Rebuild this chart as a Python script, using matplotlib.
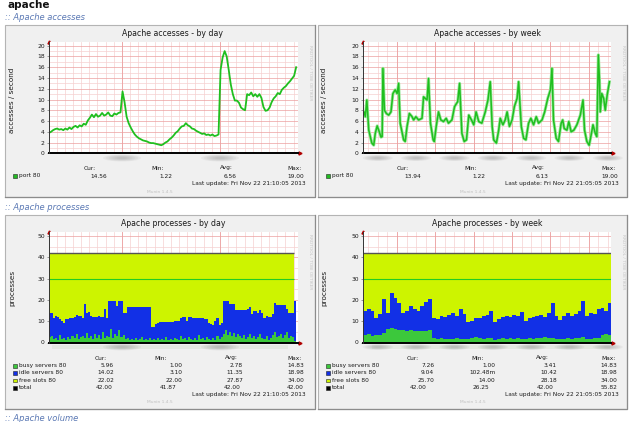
import numpy as np
import matplotlib
matplotlib.use('Agg')
import matplotlib.pyplot as plt
from matplotlib.patches import Rectangle, Ellipse

# ---------------- data ----------------
# Apache accesses by day (accesses/second), sampled every 0.25 h
acc_day = [3.8, 4.0, 4.3, 4.5, 4.6, 4.4, 4.5, 4.3,
           4.6, 4.4, 4.8, 4.5, 4.9, 5.1, 4.8, 5.2,
           5.0, 5.5, 5.3, 6.1, 6.6, 7.2, 6.7, 7.3,
           6.8, 7.0, 7.5, 7.0, 7.2, 7.6, 7.0, 6.9,
           7.4, 7.2, 7.5, 7.6, 11.5, 9.5, 6.8, 5.6,
           4.8, 4.1, 3.5, 3.1, 2.8, 2.6, 2.4, 2.3,
           2.2, 2.0, 1.9, 1.9, 1.8, 1.7, 1.6, 1.5,
           1.7, 2.0, 2.2, 2.6, 2.9, 3.3, 3.8, 4.1,
           4.6, 5.0, 5.1, 5.6, 5.2, 5.0, 4.6, 4.5,
           4.2, 4.0, 3.8, 3.6, 3.7, 3.4, 3.5, 3.3,
           3.5, 3.2, 3.3, 3.5, 15.5, 17.8, 19.0, 18.0,
           15.5, 12.8, 11.0, 9.8, 9.8, 9.4, 8.5, 8.2,
           8.0, 11.0, 10.8, 11.3, 10.6, 11.0, 10.5, 11.0,
           10.3, 8.6, 7.9, 8.0, 8.5, 9.5, 10.2, 10.6,
           11.2, 11.0, 11.8, 12.2, 12.5, 13.0, 13.4, 13.9,
           14.4, 16.0]
day_step_h = 0.25

# Apache accesses by week: time in days, value
acc_week_t = [0.00, 0.03, 0.06, 0.10, 0.15, 0.23, 0.28, 0.32, 0.37, 0.41,
              0.47, 0.50, 0.52, 0.56, 0.61, 0.67, 0.73, 0.78, 0.84, 0.89,
              0.93, 0.97, 1.06, 1.10, 1.15, 1.21, 1.28, 1.32, 1.38, 1.45,
              1.54, 1.58, 1.67, 1.71, 1.76, 1.83, 1.86, 1.91, 1.97, 2.03,
              2.10, 2.17, 2.23, 2.32, 2.39, 2.47, 2.52, 2.58, 2.64, 2.70,
              2.76, 2.83, 2.89, 2.95, 3.02, 3.10, 3.19, 3.26, 3.32, 3.37,
              3.41, 3.48, 3.54, 3.58, 3.65, 3.71, 3.76, 3.82, 3.89, 3.95,
              4.02, 4.06, 4.13, 4.19, 4.25, 4.32, 4.38, 4.45, 4.52, 4.58,
              4.67, 4.74, 4.82, 4.89, 4.93, 4.97, 5.04, 5.10, 5.17, 5.21,
              5.25, 5.32, 5.37, 5.43, 5.50, 5.58, 5.67, 5.74, 5.78, 5.84,
              5.90, 5.96, 6.00, 6.06, 6.10, 6.14, 6.17, 6.19, 6.23, 6.28,
              6.32, 6.37, 6.43]
acc_week_v = [7.1, 7.7, 6.8, 9.9, 4.3, 1.9, 1.5, 3.7, 5.1, 4.3,
              3.0, 3.1, 15.8, 8.0, 7.4, 7.1, 7.7, 11.1, 11.8, 11.1,
              13.0, 5.6, 2.5, 2.2, 5.0, 7.4, 6.8, 6.2, 6.8, 6.2,
              6.5, 10.5, 9.9, 13.9, 5.6, 2.5, 2.2, 5.0, 7.7, 6.2,
              5.9, 6.5, 5.6, 6.2, 8.7, 9.6, 13.0, 3.7, 2.2, 2.5,
              7.1, 6.2, 5.3, 7.7, 5.9, 5.6, 7.7, 9.9, 13.3, 5.0,
              2.5, 1.9, 4.3, 6.5, 5.3, 6.2, 7.7, 5.0, 6.2, 8.7,
              10.2, 13.3, 5.0, 2.8, 2.5, 5.6, 6.5, 5.3, 6.8, 5.6,
              6.2, 7.7, 10.2, 11.8, 15.8, 6.2, 2.8, 2.2, 5.6, 6.2,
              4.6, 4.3, 5.9, 4.0, 4.3, 5.3, 7.1, 9.9, 4.3, 2.2,
              1.5, 3.7, 5.3, 3.7, 3.1, 18.3, 13.6, 7.7, 11.1, 10.2,
              8.0, 10.8, 13.3]

# Apache processes by day (0.25 h steps)
busy_day = [2.5, 3, 1.5, 2, 1, 3.5, 1.5, 2, 1, 2.5,
            1.5, 3, 2, 4, 1.5, 2.5, 3, 2, 4.5, 2,
            3, 1.5, 4, 2, 3.5, 1.5, 5, 2, 3, 2.5,
            6.5, 2, 4, 3, 6, 2.5, 3.5, 1.5, 2, 1,
            1.5, 1, 2, 1, 1.5, 2.5, 1, 1.5, 1, 2,
            1, 1.5, 1, 2, 1, 1.5, 1, 2.5, 1, 1.5,
            1, 2, 1.5, 1, 3, 1.5, 2, 1, 2.5, 1.5,
            1, 2, 1, 3.5, 1.5, 2, 1, 2.5, 1.5, 1,
            2, 1, 3, 1.5, 2.5, 4, 6, 3.5, 5, 3,
            4.5, 2.5, 4, 3, 2, 3.5, 1.5, 2.5, 4, 2,
            3, 1.5, 2.5, 4, 2, 1.5, 3, 1, 2, 3.5,
            5, 2.5, 3, 4, 2, 3.5, 5, 2, 3, 2.5,
            0.5]
idle_day = [11.5, 11, 10, 10.5, 11, 7.5, 8.5, 7, 10, 8.5,
            10, 8.5, 10, 9, 11, 10, 8.5, 16, 9.5, 12.5,
            9.5, 10.5, 8, 10, 9, 10.5, 7, 13.5, 8.5, 17,
            13, 17.5, 15.5, 14, 13.5, 17, 10.5, 12.5, 14.5, 15.5,
            15, 15.5, 14.5, 15.5, 15, 14, 15.5, 15, 15.5, 14.5,
            6.5, 6, 7.5, 7, 8.7, 8.2, 8.7, 7.2, 8.7, 8.2,
            8.7, 8.3, 8.8, 9.3, 8.3, 10.5, 10, 9.3, 9.5, 10.5,
            10.3, 9.3, 10.3, 7.8, 9.8, 9.3, 10, 8.3, 7.7, 7.5,
            6.1, 9, 8.3, 6.9, 6.7, 15.5, 13.5, 16, 13.2, 15.2,
            13.7, 12.6, 11.1, 12.1, 13.1, 11.6, 13.6, 13, 12.6, 11.5,
            11.7, 13.2, 11.4, 11.1, 11.9, 9.8, 9.4, 10.9, 9.9, 9.7,
            13.7, 15.1, 14.6, 13.6, 15.6, 14.1, 10.5, 11.9, 10.9, 11.4,
            19]
total_day = 42.0
limit_day = 30.0

# Apache processes by week (0.1 day steps)
busy_week = [3.5, 3.8, 3.2, 3.6, 3.4, 4.5, 6.5, 6.8, 6.2, 5.8,
             6.0, 5.5, 5.8, 5.3, 5.6, 5.2, 5.5, 5.8, 2.0, 1.5,
             2.0, 1.6, 1.8, 1.5, 2.2, 1.8, 1.6, 1.5, 2.2, 2.5,
             2.0, 1.8, 2.3, 2.0, 1.4, 1.8, 2.0, 1.6, 2.2, 1.8,
             2.1, 1.7, 1.5, 2.0, 1.8, 2.3, 2.0, 2.4, 1.9, 2.2,
             1.5, 1.8, 1.6, 2.0, 1.7, 2.2, 1.9, 2.5, 1.5, 1.6,
             2.0, 2.2, 3.5, 3.8, 3.6]
idle_week = [11.2, 11.7, 11.8, 7.9, 9.8, 16.0, 7.5, 16.2, 14.8, 12.7,
             8.0, 9.5, 11.2, 10.2, 9.4, 11.8, 13.5, 14.5, 9.6, 9.3,
             10.4, 10.4, 11.0, 12.4, 10.2, 13.7, 11.9, 8.0, 8.1, 9.1,
             9.3, 10.6, 10.7, 13.0, 8.1, 9.0, 10.0, 10.8, 9.8, 11.2,
             10.3, 12.8, 8.5, 9.3, 10.0, 9.9, 11.0, 9.6, 12.0, 16.5,
             11.0, 8.7, 10.6, 11.9, 10.7, 11.0, 12.9, 17.0, 11.0, 12.4,
             11.5, 13.3, 12.5, 11.2, 14.9]
week_step_d = 0.1
total_week = 42.0
limit_week = 30.0

acc_ticks = [0, 2, 4, 6, 8, 10, 12, 14, 16, 18, 20]
proc_ticks = [0, 10, 20, 30, 40, 50]

acc_day_stats = ['14.56', '1.22', '6.56', '19.00']
acc_week_stats = ['13.94', '1.22', '6.13', '19.00']
proc_labels = ['busy servers 80', 'idle servers 80', 'free slots 80', 'total']
proc_day_stats = [['5.96', '1.00', '2.78', '14.83'],
                  ['14.02', '3.10', '11.35', '18.98'],
                  ['22.02', '22.00', '27.87', '34.00'],
                  ['42.00', '41.87', '42.00', '42.00']]
proc_week_stats = [['7.26', '1.00', '3.41', '14.83'],
                   ['9.04', '102.48m', '10.42', '18.98'],
                   ['25.70', '14.00', '28.18', '34.00'],
                   ['42.00', '26.25', '42.00', '55.82']]
upd_day = 'Last update: Fri Nov 22 21:10:05 2013'
upd_week = 'Last update: Fri Nov 22 21:05:05 2013'

# ---------------- style ----------------
LINE_G = '#1fbf1f'
AREA_G = '#3cc83c'
AREA_B = '#1230e6'
AREA_Y = '#cdf400'
MINOR = '#f6d0d0'
MAJOR = '#eca0a0'
TXT = '#1a1a1a'

W, H = 640, 422
fig = plt.figure(figsize=(6.4, 4.22), dpi=100)
fig.patch.set_facecolor('white')
bg = fig.add_axes([0, 0, 1, 1])
bg.set_xlim(0, W)
bg.set_ylim(H, 0)
bg.axis('off')


def pax(x0, y0, x1, y1):
    return fig.add_axes([x0 / W, 1 - y1 / H, (x1 - x0) / W, (y1 - y0) / H])


def panel(x0, y0, x1, y1):
    bg.add_patch(Rectangle((x0, y0), x1 - x0, y1 - y0, facecolor='#f0f0f0',
                           edgecolor='#b4b4b4', lw=0.8, zorder=1))
    bg.plot([x1, x1, x0], [y0, y1, y1], color='#8c8c8c', lw=0.9, zorder=1.1)


def blob(x, y, w, h):
    for k in range(6):
        f = 1 - k * 0.15
        bg.add_patch(Ellipse((x, y), w * f, h * f, facecolor='#8a8a8a',
                             edgecolor='none', alpha=0.09, zorder=2))


def setup(ax, xmax, ymax, yticks, yminor, xminor, xmajor):
    ax.set_xlim(0, xmax)
    ax.set_ylim(0, ymax)
    ax.set_facecolor('white')
    for s in ax.spines.values():
        s.set_visible(False)
    ax.set_xticks([])
    ax.set_yticks(yticks)
    ax.set_yticklabels([str(t) for t in yticks], fontsize=4.3, color=TXT)
    ax.tick_params(axis='y', length=1.5, width=0.4, pad=1.5, color='#555')
    for v in xminor:
        ax.axvline(v, color=MINOR, lw=0.5, zorder=0)
    for v in xmajor:
        ax.axvline(v, color=MAJOR, lw=0.6, zorder=0.1)
    for v in yminor:
        ax.axhline(v, color=MINOR, lw=0.5, zorder=0)
    for v in yticks[1:]:
        ax.axhline(v, color=MAJOR, lw=0.5, zorder=0.1)
    ax.axhline(0, color='black', lw=1.4, zorder=6, clip_on=False)
    ax.axvline(0, color='#333333', lw=0.7, zorder=6, clip_on=False)


def arrows(xl, xr, ytop, ybot):
    bg.plot([xr + 1.5], [ybot], marker='>', ms=2.2, color='#b00000', zorder=10)
    bg.plot([xl], [ytop], marker='^', ms=2.2, color='#b00000', zorder=10)


def rrd(x, y):
    bg.text(x, y, 'RRDTOOL / TOBI OETIKER', rotation=270, fontsize=3.2,
            color='#c4c4c4', ha='center', va='top', zorder=3)


FS_T = 5.6
FS_L = 4.2

# header texts
bg.text(8, 5, 'apache', fontsize=7.5, fontweight='bold', color='#111',
        ha='left', va='center')
for ytxt, s in [(17.5, ':: Apache accesses'), (207.5, ':: Apache processes'),
                (418.5, ':: Apache volume')]:
    bg.text(5, ytxt, s, fontsize=6, style='italic', color='#5a78b4',
            ha='left', va='center')

panels = [(5, 25, 315, 197), (318, 25, 627, 197),
          (5, 215, 315, 409), (318, 215, 627, 409)]
for p in panels:
    panel(*p)

# geometry
DAY_X = (49, 298)
WEEK_X = (363, 611)
ACC_Y = (42, 153.3)
PROC_Y = (232, 342.5)
day_xmax = (DAY_X[1] - DAY_X[0]) / 8.17
week_xmax = (WEEK_X[1] - WEEK_X[0]) / 38.33
day_minor = [0.93 + k for k in range(31)]
day_major = [8.93, 20.93]
week_minor = [0.137 + 0.25 * k for k in range(26)]
week_major = [0.887 + k for k in range(6)]
acc_ymax = (ACC_Y[1] - ACC_Y[0]) / 5.38
proc_ymax = (PROC_Y[1] - PROC_Y[0]) / 2.133

# ---- accesses by day ----
ax1 = pax(DAY_X[0], ACC_Y[0], DAY_X[1], ACC_Y[1])
setup(ax1, day_xmax, acc_ymax, acc_ticks, list(range(1, 21, 2)), day_minor, day_major)
t_day = np.arange(len(acc_day)) * day_step_h
ax1.plot(t_day, acc_day, color=LINE_G, lw=1.3, zorder=3)

# ---- accesses by week ----
ax2 = pax(WEEK_X[0], ACC_Y[0], WEEK_X[1], ACC_Y[1])
setup(ax2, week_xmax, acc_ymax, acc_ticks, list(range(1, 21, 2)), week_minor, week_major)
ax2.plot(acc_week_t, acc_week_v, color='#9be69b', lw=2.2, zorder=2.5)
ax2.plot(acc_week_t, acc_week_v, color=LINE_G, lw=1.1, zorder=3)

# ---- processes by day ----
ax3 = pax(DAY_X[0], PROC_Y[0], DAY_X[1], PROC_Y[1])
setup(ax3, day_xmax, proc_ymax, proc_ticks, [5, 15, 25, 35, 45], day_minor, day_major)
b = np.array(busy_day)
i = np.array(idle_day)
edges = np.arange(len(b) + 1) * day_step_h
ax3.stairs(b, edges, baseline=0, fill=True, color=AREA_G, zorder=2)
ax3.stairs(b + i, edges, baseline=b, fill=True, color=AREA_B, zorder=2)
ax3.stairs(np.full(len(b) - 1, total_day), edges[:-1], baseline=(b + i)[:-1],
           fill=True, color=AREA_Y, zorder=2)
ax3.hlines(limit_day, 0, edges[-2], color='#22cc22', lw=0.8, zorder=3)
ax3.hlines(total_day, 0, edges[-2], color='#555555', lw=1.0, zorder=3)

# ---- processes by week ----
ax4 = pax(WEEK_X[0], PROC_Y[0], WEEK_X[1], PROC_Y[1])
setup(ax4, week_xmax, proc_ymax, proc_ticks, [5, 15, 25, 35, 45], week_minor, week_major)
bw = np.array(busy_week)
iw = np.array(idle_week)
edges_w = np.arange(len(bw) + 1) * week_step_d
ax4.stairs(bw, edges_w, baseline=0, fill=True, color=AREA_G, zorder=2)
ax4.stairs(bw + iw, edges_w, baseline=bw, fill=True, color=AREA_B, zorder=2)
ax4.stairs(np.full(len(bw), total_week), edges_w, baseline=bw + iw,
           fill=True, color=AREA_Y, zorder=2)
ax4.hlines(limit_week, 0, edges_w[-1], color='#22cc22', lw=0.8, zorder=3)
ax4.hlines(total_week, 0, edges_w[-1], color='#555555', lw=1.0, zorder=3)

for (xl, xr) in [DAY_X, WEEK_X]:
    arrows(xl, xr, ACC_Y[0], ACC_Y[1])
    arrows(xl, xr, PROC_Y[0], PROC_Y[1])

# blurred x-axis labels
for xc in [122, 220]:
    blob(xc, 158, 38, 7)
    blob(xc, 347, 38, 7)
for k in range(7):
    xc = WEEK_X[0] + (0.387 + k) * 38.33
    blob(xc, 158, 30, 6)
    blob(xc, 347, 30, 6)
bg.add_patch(Rectangle((52, 344.5), 236, 4, facecolor='#e4e9e2', edgecolor='none', zorder=1.5))
bg.add_patch(Rectangle((372, 344.5), 238, 4, facecolor='#e4e9e2', edgecolor='none', zorder=1.5))

# titles, y labels, rrdtool credit
for xc, yc, s in [(173, 34, 'Apache accesses - by day'), (487, 34, 'Apache accesses - by week'),
                  (173, 223, 'Apache processes - by day'), (487, 223, 'Apache processes - by week')]:
    bg.text(xc, yc, s, fontsize=FS_T, color=TXT, ha='center', va='center', zorder=3)
for xc, yc, s in [(12, 100, 'accesses / second'), (324, 100, 'accesses / second'),
                  (12, 288, 'processes'), (324, 288, 'processes')]:
    bg.text(xc, yc, s, fontsize=5.2, color=TXT, rotation=90, ha='center', va='center', zorder=3)
for xc, yc in [(310, 45), (623, 45), (310, 234), (623, 234)]:
    rrd(xc, yc)


def sq(x, y, c):
    bg.add_patch(Rectangle((x, y - 1.8), 3.6, 3.6, facecolor=c, edgecolor='#222',
                           lw=0.4, zorder=3))


def headers(y, cx_cur, cx_min, cx_avg, x_max):
    for xc, s in [(cx_cur, 'Cur:'), (cx_min, 'Min:'), (cx_avg, 'Avg:')]:
        bg.text(xc, y, s, fontsize=FS_L, color=TXT, ha='center', va='center', zorder=3)
    bg.text(x_max, y, 'Max:', fontsize=FS_L, color=TXT, ha='right', va='center', zorder=3)


def vals(y, xs, stats):
    for xr, s in zip(xs, stats):
        bg.text(xr, y, s, fontsize=FS_L, color=TXT, ha='right', va='center', zorder=3)


def label(x, y, s):
    bg.text(x, y, s, fontsize=FS_L, color=TXT, ha='left', va='center', zorder=3)


def footer(xr, xm, y_upd, y_m, upd):
    bg.text(xr, y_upd, upd, fontsize=FS_L, color=TXT, ha='right', va='center', zorder=3)
    bg.text(xm, y_m, 'Munin 1.4.5', fontsize=3.2, color='#c0c0c0', ha='center',
            va='center', zorder=3)


# accesses legends
headers(168, 90, 158, 226, 302)
sq(13.3, 176, '#22bb22'); label(19, 176, 'port 80')
vals(176, [107, 172, 237, 304], acc_day_stats)
footer(306, 160, 183.5, 192, upd_day)

headers(168, 403, 471, 538, 616)
sq(326, 176, '#22bb22'); label(331.7, 176, 'port 80')
vals(176, [421, 485, 549, 618], acc_week_stats)
footer(619, 473, 183.5, 192, upd_week)

# processes legends
row_y = [365.7, 373, 380.3, 387.7]
colors = [AREA_G, AREA_B, AREA_Y, '#000000']
headers(358, 100.5, 160.7, 231, 302)
headers(358, 413, 478, 542.7, 616)
for r in range(4):
    sq(13.3, row_y[r], colors[r]); label(19, row_y[r], proc_labels[r])
    sq(326, row_y[r], colors[r]); label(331.7, row_y[r], proc_labels[r])
    if r < 3:
        vals(row_y[r], [114, 182, 243, 304], proc_day_stats[r])
        vals(row_y[r], [434, 495.5, 557, 617.3], proc_week_stats[r])
    else:
        vals(row_y[r], [113, 176, 241, 304], proc_day_stats[r])
        vals(row_y[r], [427, 489, 554, 617.3], proc_week_stats[r])
footer(306, 160, 394.7, 402.3, upd_day)
footer(619, 473, 394.7, 402.3, upd_week)

fig.savefig('out.png', dpi=100, facecolor='white')
